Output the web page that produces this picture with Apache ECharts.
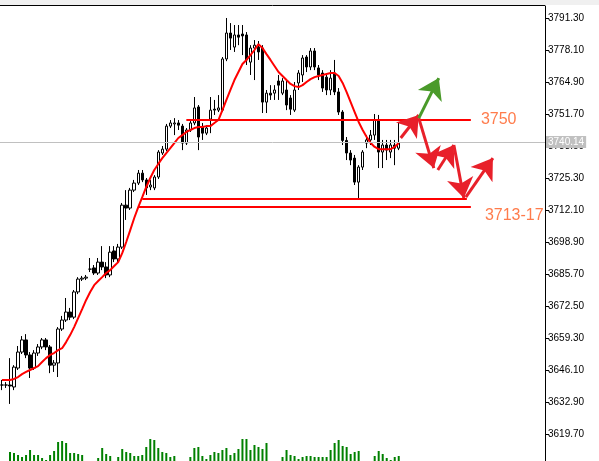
<!DOCTYPE html>
<html><head><meta charset="utf-8">
<script src="https://cdn.jsdelivr.net/npm/echarts@6/dist/echarts.min.js"></script>
<style>html,body{margin:0;padding:0;background:#fff}#c{width:599px;height:461px}</style>
</head><body><div id="c"></div>
<script>
// candles: [open, close, low, high]
const candles = [
[3639.9,3639.9,3637.8,3642.0],[3639.9,3639.9,3638.7,3641.1],[3639.9,3639.5,3632.1,3651.0],[3639.1,3647.3,3637.8,3648.1],
[3646.9,3653.5,3646.1,3656.0],[3653.5,3658.5,3652.7,3660.1],[3658.5,3652.3,3651.0,3660.9],[3652.3,3646.9,3642.8,3653.5],
[3646.9,3653.1,3646.1,3654.3],[3653.1,3655.6,3651.9,3656.8],[3655.6,3658.5,3654.7,3659.3],[3658.5,3655.6,3654.3,3659.3],
[3655.6,3648.1,3644.8,3656.4],[3648.1,3649.0,3645.3,3650.2],[3649.0,3663.0,3643.2,3663.8],[3663.0,3666.7,3662.2,3668.4],
[3666.7,3670.0,3665.9,3675.8],[3670.0,3667.9,3666.7,3671.7],[3667.9,3678.3,3667.1,3679.1],[3678.3,3683.6,3677.4,3684.4],
[3683.6,3684.0,3682.8,3684.9],[3684.0,3684.4,3683.2,3685.3],[3687.7,3687.7,3686.5,3692.3],[3688.2,3686.1,3685.3,3689.4],
[3686.1,3690.6,3685.3,3692.3],[3690.6,3688.6,3687.3,3697.2],[3688.6,3685.3,3684.0,3690.6],[3685.3,3694.7,3684.4,3697.2],
[3695.2,3691.9,3690.6,3697.2],[3691.9,3696.8,3690.6,3698.1],[3696.8,3714.1,3696.0,3715.0],[3714.1,3712.9,3708.0,3720.3],
[3712.9,3720.3,3712.1,3721.2],[3720.3,3723.2,3719.5,3724.5],[3723.2,3727.3,3722.4,3728.6],[3727.3,3724.5,3723.6,3728.6],
[3724.5,3721.2,3718.3,3725.3],[3721.6,3722.4,3720.3,3724.5],[3721.2,3725.7,3720.3,3726.5],[3725.7,3736.0,3724.9,3736.8],
[3735.6,3737.2,3734.8,3738.5],[3737.2,3746.7,3736.4,3747.6],[3746.7,3748.0,3745.9,3749.2],[3747.6,3748.0,3743.0,3750.0],
[3748.0,3747.1,3745.1,3749.2],[3746.7,3739.7,3736.8,3747.6],[3739.7,3745.1,3738.9,3745.9],[3745.1,3748.0,3744.3,3749.2],
[3748.0,3754.2,3747.1,3758.7],[3754.6,3742.2,3736.8,3755.4],[3746.3,3743.8,3741.0,3748.0],[3743.8,3745.9,3743.0,3747.1],
[3749.6,3753.3,3743.8,3758.7],[3753.7,3753.3,3751.3,3757.5],[3753.3,3754.2,3752.5,3759.5],[3753.3,3774.4,3752.5,3775.2],
[3774.4,3785.1,3773.5,3791.3],[3785.1,3783.0,3778.1,3789.2],[3779.3,3784.3,3777.3,3788.4],[3784.3,3783.4,3780.1,3788.4],
[3784.7,3783.9,3776.0,3788.4],[3784.3,3774.0,3771.9,3785.5],[3773.1,3778.9,3767.8,3780.1],[3778.9,3780.1,3765.7,3782.2],
[3779.3,3777.3,3774.0,3781.8],[3778.9,3756.6,3752.1,3780.1],[3756.6,3760.3,3752.1,3761.6],[3760.3,3759.5,3757.5,3763.6],
[3760.3,3761.6,3757.5,3763.6],[3765.3,3763.6,3757.5,3767.8],[3760.3,3765.3,3759.5,3766.5],[3761.6,3755.4,3753.3,3765.3],
[3758.3,3753.7,3751.3,3759.5],[3753.3,3761.6,3752.5,3764.9],[3764.5,3768.6,3761.6,3769.8],[3767.8,3774.8,3764.9,3776.0],
[3775.2,3771.1,3769.0,3776.0],[3771.1,3777.7,3769.8,3778.9],[3777.7,3771.1,3769.8,3778.9],[3770.7,3767.8,3765.7,3771.9],
[3768.6,3762.4,3760.8,3769.8],[3766.9,3761.6,3759.5,3767.8],[3761.6,3766.5,3759.5,3769.8],[3768.6,3760.8,3759.5,3774.0],
[3760.8,3752.5,3751.3,3762.4],[3752.5,3740.8,3738.9,3753.3],[3740.8,3735.6,3732.7,3742.2],[3735.6,3732.7,3730.6,3736.8],
[3733.5,3723.6,3722.4,3734.8],[3723.6,3729.8,3717.0,3730.6],[3729.8,3736.0,3728.6,3736.8],[3739.7,3741.0,3737.6,3743.0],
[3741.0,3743.0,3738.9,3745.1],[3743.0,3749.2,3741.0,3751.7],[3749.2,3736.0,3729.4,3751.3],[3736.0,3738.9,3729.4,3741.0],
[3738.9,3736.8,3732.7,3741.0],[3736.0,3738.9,3733.5,3741.0],[3738.9,3737.6,3730.6,3741.0],[3737.6,3739.7,3736.8,3748.4]
];
const maValues = [3642.0,3642.0,3642.0,3642.4,3643.2,3644.4,3645.3,3646.1,3646.9,3647.7,3649.4,3651.0,3652.3,3653.1,3654.3,3655.1,
3657.6,3660.5,3663.8,3667.5,3671.2,3675.0,3678.3,3681.1,3682.8,3684.4,3686.1,3687.3,3689.0,3690.6,3694.3,3698.9,3703.8,3708.8,
3713.3,3717.4,3721.6,3725.3,3728.6,3731.1,3733.5,3735.6,3737.6,3739.7,3741.8,3743.0,3744.3,3745.1,3745.9,3746.3,3746.3,3746.7,
3746.7,3748.0,3749.2,3753.3,3757.5,3761.6,3765.7,3769.0,3772.3,3774.0,3776.0,3778.1,3780.5,3778.9,3776.4,3774.0,3771.5,3769.0,
3767.4,3765.7,3764.1,3763.2,3762.8,3763.6,3764.9,3766.1,3766.9,3767.4,3767.8,3768.2,3768.6,3768.6,3767.4,3764.5,3760.7,3756.6,
3752.5,3748.4,3745.1,3742.2,3739.7,3738.1,3737.2,3737.2,3737.2,3737.2,3738.1,3739.7];
const volumes = [0,0,9,8,6,4,6,11,6,6,3,1,6,10,19,20,18,8,8,7,6,0,0,0,3,13,7,5,0,4,12,9,8,5,5,6,14,22,21,13,
9,8,4,5,0,0,0,4,13,14,5,2,6,9,8,11,13,6,8,12,22,22,11,16,14,12,18,0,0,0,4,11,6,5,2,4,5,5,4,4,
4,4,11,18,21,15,14,7,9,10,0,0,0,5,10,7,3,1,4,5];
const tickLabels = [3619.70,3632.90,3646.10,3659.30,3672.50,3685.70,3698.90,3712.10,3725.30,3738.50,3751.70,3764.90,3778.10,3791.30];
const currentPrice = 3740.14;
// horizontal levels: [startIndex, endIndex, price]
const levels = [[46,117,3749.5],[35,116,3716.6],[34,117,3713.5]];
const levelTexts = [['3750',3749.5],['3713-17',3709.6]];
// arrows: [x0,y0,x1,y1]
const redArrows = [[99.5,3741.8,104,3751.3],[104,3750.0,107.75,3729.4],[108.75,3728.6,112.75,3738.9],[112.75,3738.9,115.25,3717.0],[115.75,3717.4,122.5,3733.5]];
const greenArrows = [[104,3750.0,109,3766.5]];

const N = 136;
const cats = Array.from({length:N},(_,i)=>String(i));
const pad = a => a.concat(Array(N-a.length).fill('-'));

const chart = echarts.init(document.getElementById('c'));
chart.setOption({
  animation:false,
  grid:[{left:0,right:54,top:6,bottom:0},{left:0,right:54,top:437,height:24}],
  xAxis:[
    {type:'category',data:cats,gridIndex:0,show:false,boundaryGap:true},
    {type:'category',data:cats,gridIndex:1,show:false,boundaryGap:true},
    {type:'value',gridIndex:0,min:-0.5,max:N-0.5,show:false}
  ],
  yAxis:[
    {type:'value',gridIndex:0,position:'right',min:3608.56,max:3796.25,
     axisLine:{show:true,onZero:false,lineStyle:{color:'#000',width:1}},
     axisTick:{show:true,inside:false,length:4,lineStyle:{color:'#000'},customValues:tickLabels},
     axisLabel:{color:'#000',fontFamily:'Liberation Sans',fontSize:10,margin:3,customValues:tickLabels,formatter:v=>v.toFixed(2)},
     splitLine:{show:false}},
    {type:'value',gridIndex:1,min:0,max:24,show:false}
  ],
  graphic:[
    {type:'rect',shape:{x:0,y:0,width:599,height:5},style:{fill:'#f0f0f0'},silent:true},
    {type:'line',shape:{x1:0,y1:5.5,x2:545,y2:5.5},style:{stroke:'#000',lineWidth:1}}
  ],
  series:[
    {type:'candlestick',xAxisIndex:0,yAxisIndex:0,data:candles,barWidth:3,
     itemStyle:{color:'#fff',color0:'#000',borderColor:'#000',borderColor0:'#000',borderWidth:1},
     markLine:{silent:true,symbol:'none',animation:false,
       data:[{yAxis:currentPrice,lineStyle:{color:'#c0c0c0',width:1,type:'solid'},
         label:{show:true,position:'end',formatter:currentPrice.toFixed(2),backgroundColor:'#c0c0c0',color:'#fff',
           fontFamily:'Liberation Sans',fontSize:10,padding:[1,2],distance:1}}]}
    },
    {type:'line',xAxisIndex:0,yAxisIndex:0,data:pad(maValues),symbol:'none',
     lineStyle:{color:'#ff0000',width:2},z:3},
    {type:'bar',xAxisIndex:1,yAxisIndex:1,data:volumes,barWidth:2,itemStyle:{color:'#008000'}},
    {type:'lines',coordinateSystem:'cartesian2d',xAxisIndex:2,yAxisIndex:0,z:4,
     lineStyle:{color:'#ff0000',width:2,opacity:1},symbol:'none',
     data:levels.map(l=>({coords:[[l[0],l[2]],[l[1],l[2]]]}))},
    {type:'lines',coordinateSystem:'cartesian2d',xAxisIndex:2,yAxisIndex:0,z:5,
     lineStyle:{color:'#e8202a',width:3,opacity:1},symbol:['none','arrow'],symbolSize:20,
     data:redArrows.map(a=>({coords:[[a[0],a[1]],[a[2],a[3]]]}))},
    {type:'lines',coordinateSystem:'cartesian2d',xAxisIndex:2,yAxisIndex:0,z:5,
     lineStyle:{color:'#4a9a2a',width:3,opacity:1},symbol:['none','arrow'],symbolSize:20,
     data:greenArrows.map(a=>({coords:[[a[0],a[1]],[a[2],a[3]]]}))},
    {type:'scatter',xAxisIndex:2,yAxisIndex:0,symbolSize:0,z:6,
     data:[[119.5,levelTexts[0][1]],[120.5,levelTexts[1][1]]],
     label:{show:true,position:'right',distance:0,color:'#ff5a1e',fontFamily:'Liberation Sans',fontSize:16,
       formatter:p=>levelTexts[p.dataIndex][0]}}
  ]
});
</script></body></html>
